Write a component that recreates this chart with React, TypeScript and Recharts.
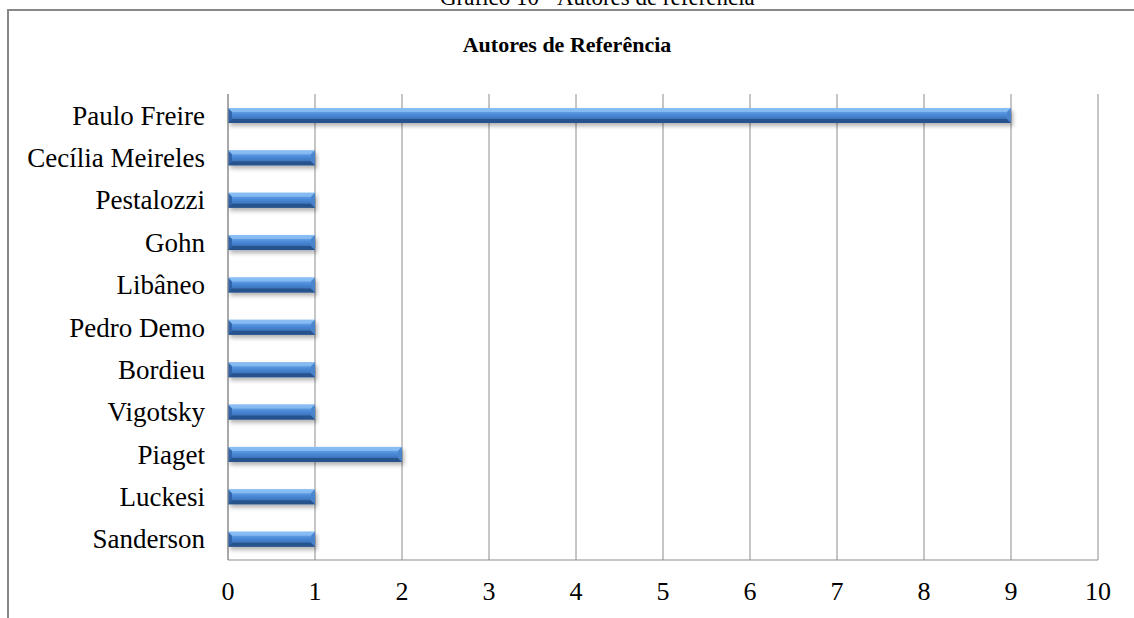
import React from "react"
import { BarChart, Bar, XAxis, YAxis, CartesianGrid } from "recharts"

// Autores de referência citados
const authors = [
  "Paulo Freire",
  "Cecília Meireles",
  "Pestalozzi",
  "Gohn",
  "Libâneo",
  "Pedro Demo",
  "Bordieu",
  "Vigotsky",
  "Piaget",
  "Luckesi",
  "Sanderson",
]
const citations = [9, 1, 1, 1, 1, 1, 1, 1, 2, 1, 1]
const xTicks = [0, 1, 2, 3, 4, 5, 6, 7, 8, 9, 10]

const data = authors.map((name, i) => ({ name, value: citations[i] }))

const FONT = "'Liberation Serif', 'Times New Roman', serif"

// 3D-ish bevelled bar like the Excel style
function BevelBar(props: any) {
  const { x, y, width, height } = props
  if (!width || width <= 0) return null
  const b = 4
  return (
    <g filter="url(#barShadow)">
      <rect x={x} y={y} width={width} height={height} fill="url(#barGrad)" />
      <polygon
        points={`${x},${y} ${x + width},${y} ${x + width - b},${y + b} ${x + b},${y + b}`}
        fill="#8cc0f5"
        opacity={0.8}
      />
      <polygon
        points={`${x},${y + height} ${x + width},${y + height} ${x + width - b},${y + height - b} ${x + b},${y + height - b}`}
        fill="#27508a"
        opacity={0.9}
      />
      <polygon
        points={`${x},${y} ${x + b},${y + b} ${x + b},${y + height - b} ${x},${y + height}`}
        fill="#2f62a6"
        opacity={0.9}
      />
      <polygon
        points={`${x + width},${y} ${x + width - b},${y + b} ${x + width - b},${y + height - b} ${x + width},${y + height}`}
        fill="#4a84cc"
        opacity={0.9}
      />
    </g>
  )
}

export default function App() {
  return (
    <div
      style={{
        position: "fixed",
        top: 0,
        left: 0,
        width: 1134,
        height: 618,
        background: "#fff",
        overflow: "hidden",
        fontFamily: FONT,
      }}
    >
      {/* figure caption, cut off at the top */}
      <div
        style={{
          position: "absolute",
          top: -15,
          left: 440,
          whiteSpace: "nowrap",
          fontSize: 23,
          lineHeight: "26px",
          color: "#000",
        }}
      >
        Gráfico 10 - Autores de referência
      </div>
      {/* chart frame */}
      <div
        style={{
          position: "absolute",
          top: 9,
          left: 7,
          width: 1140,
          height: 620,
          border: "2px solid #888",
          boxSizing: "border-box",
        }}
      />
      <div
        style={{
          position: "absolute",
          top: 32,
          left: 0,
          width: 1134,
          textAlign: "center",
          fontSize: 22,
          fontWeight: "bold",
          color: "#000",
        }}
      >
        Autores de Referência
      </div>
      <div style={{ position: "absolute", top: 0, left: 0 }}>
        <BarChart
          width={1134}
          height={618}
          data={data}
          layout="vertical"
          margin={{ top: 94, right: 36, bottom: 28, left: 28 }}
          barCategoryGap={0}
        >
          <defs>
            <linearGradient id="barGrad" x1="0" y1="0" x2="0" y2="1">
              <stop offset="0%" stopColor="#7db4ef" />
              <stop offset="45%" stopColor="#4a8ad8" />
              <stop offset="100%" stopColor="#2f5f9f" />
            </linearGradient>
            <filter id="barShadow" x="-5%" y="-50%" width="110%" height="220%">
              <feDropShadow dx="2" dy="3" stdDeviation="2" floodColor="#000" floodOpacity="0.3" />
            </filter>
          </defs>
          <CartesianGrid horizontal={false} stroke="#8c8c8c" />
          <XAxis
            type="number"
            domain={[0, 10]}
            ticks={xTicks}
            interval={0}
            height={30}
            axisLine={{ stroke: "#8c8c8c" }}
            tickLine={false}
            tickSize={6}
            tickMargin={16}
            tick={{ fill: "#000", fontSize: 26, fontFamily: FONT }}
          />
          <YAxis
            type="category"
            dataKey="name"
            width={200}
            axisLine={{ stroke: "#8c8c8c" }}
            tickLine={false}
            tickMargin={17}
            interval={0}
            tick={{ fill: "#000", fontSize: 27, fontFamily: FONT }}
          />
          <Bar
            dataKey="value"
            barSize={15}
            shape={<BevelBar />}
            isAnimationActive={false}
          />
        </BarChart>
      </div>
    </div>
  )
}
